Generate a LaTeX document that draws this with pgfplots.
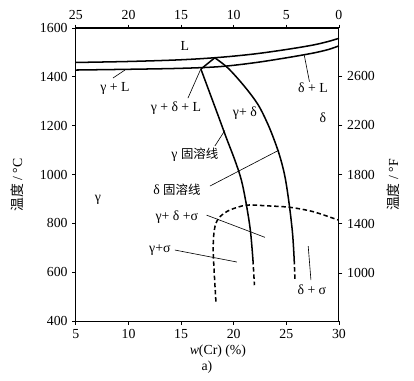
\documentclass[border=0pt]{standalone}
\usepackage{fontspec}
\setmainfont{Liberation Serif}
\newfontfamily\cjk{Noto Sans CJK SC}
\usepackage{pgfplots}
\pgfplotsset{compat=1.18}
\begin{document}
\begin{tikzpicture}
\pgfplotsset{
  every axis/.append style={
    scale only axis, width=190.6pt, height=212.4pt,
    tick align=outside, major tick length=2.5pt,
    tick label style={font=\fontsize{10}{12}\selectfont},
    /pgf/number format/assume math mode=true,
    /pgf/number format/1000 sep={},
    axis line style={line width=0.8pt},
    tick style={line width=0.6pt, black},
    clip=false,
  },
  phase/.style={black, line width=1.1pt, smooth, tension=0.55, no marks},
  phasedash/.style={black, line width=1.1pt, no marks, dash pattern=on 3.2pt off 2pt},
  lead/.style={black, line width=0.45pt, no marks},
}
\begin{axis}[name=ax,
  xmin=5, xmax=30, ymin=400, ymax=1600,
  xtick={5,10,...,30}, ytick={400,600,...,1600},
  xtick pos=bottom, ytick pos=left,
  every node/.append style={font=\fontsize{10}{12}\selectfont},
]
% liquidus
\addplot[phase] coordinates {(5,1459) (10,1463) (15,1470) (18.7,1480) (22,1494) (25,1512) (27.5,1530) (29,1545) (30,1558)};
% solidus
\addplot[phase] coordinates {(5,1428) (10,1431) (15,1435) (18.7,1442) (22,1458) (25,1478) (27.5,1497) (29,1512) (30,1527)};
% small triangle side
\addplot[phase] coordinates {(16.88,1432) (18.2,1478)};
% gamma solvus
\addplot[phase] coordinates {(16.88,1432) (17.69,1338) (18.50,1244) (19.31,1149) (20.11,1059) (20.73,977) (21.21,875) (21.59,769) (21.83,650)};
\addplot[phasedash] coordinates {(21.83,650) (21.97,547)};
% delta solvus
\addplot[phase] coordinates {(18.2,1478) (19.48,1435) (21.06,1359) (22.33,1285) (23.28,1203) (23.95,1130) (24.45,1065) (24.90,985) (25.30,870) (25.60,755) (25.75,650)};
\addplot[phasedash] coordinates {(25.75,650) (25.82,568)};
% sigma boundary
\addplot[phasedash, smooth, tension=0.5] coordinates {(18.31,480) (18.05,691) (18.21,786) (18.69,827) (19.64,855) (21.23,875) (23.13,872) (25.34,866) (27.56,848) (29.93,814)};
% leader lines
\addplot[lead] coordinates {(8.52,1395) (9.66,1428)};
\addplot[lead] coordinates {(26.7,1490) (27.2,1380)};
\addplot[lead] coordinates {(15.65,1313) (16.85,1430)};
\addplot[lead] coordinates {(18.21,1117) (19.15,1180)};
\addplot[lead] coordinates {(17.74,953) (24.30,1100)};
\addplot[lead] coordinates {(17.42,834) (22.97,743)};
\addplot[lead] coordinates {(14.41,691) (20.30,642)};
\addplot[lead] coordinates {(27.08,707) (27.34,568)};
% labels
\node at (axis cs:15.36,1526) {L};
\node at (axis cs:8.71,1354) {γ + L};
\node at (axis cs:14.51,1272) {γ + δ + L};
\node at (axis cs:21.06,1252) {γ+ δ};
\node at (axis cs:27.53,1354) {δ + L};
\node at (axis cs:28.48,1231) {δ};
\node at (axis cs:16.31,1080) {γ \cjk\fontsize{9}{11}\selectfont 固溶线};
\node at (axis cs:14.6,936) {δ \cjk\fontsize{9}{11}\selectfont 固溶线};
\node at (axis cs:7.09,895) {γ};
\node at (axis cs:14.6,826) {γ+ δ +σ};
\node at (axis cs:12.98,691) {γ+σ};
\node at (axis cs:27.43,527) {δ + σ};
% axis labels
\node at ([yshift=-21.75pt]axis cs:18.5,400) {\textit{w}(Cr) (\%)};
\node at ([yshift=-33.4pt]axis cs:17.45,400) {a)};
\node[rotate=90] at ([xshift=-42.8pt]axis cs:5,957) {{\cjk 温度} / °C};
\node[rotate=90] at ([xshift=39pt]axis cs:30,957) {{\cjk 温度} / °F};
\end{axis}
\begin{axis}[
  xmin=0, xmax=25, x dir=reverse,
  ymin=610, ymax=2990,
  xtick={0,5,...,25}, ytick={1000,1400,...,2600},
  axis x line*=top, axis y line*=right,
]
\end{axis}
\pgfresetboundingbox
\path ([shift={(-55pt,-42.8pt)}]ax.south west) rectangle ([shift={(54.4pt,20.3pt)}]ax.north east);
\end{tikzpicture}
\end{document}
